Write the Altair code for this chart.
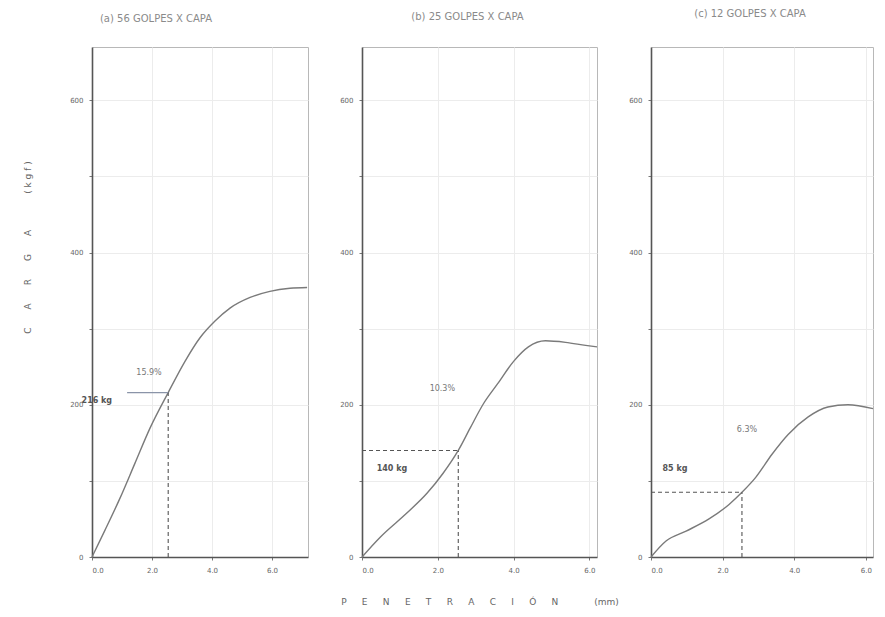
import altair as alt
import pandas as pd

# ---- data (read from the scanned CBR sheet) ----
titles = ["(a)  56 GOLPES  X  CAPA", "(b)  25 GOLPES  X  CAPA", "(c)  12 GOLPES  X  CAPA"]

pen1 = [0.0, 0.43, 0.93, 1.43, 1.93, 2.54, 3.1, 3.6, 4.1, 4.6, 5.27, 5.93, 6.6, 7.17]
load1 = [0, 35, 77, 123, 169, 216, 257, 288, 310, 327, 341, 349, 353, 354]

pen2 = [0.0, 0.48, 1.19, 1.72, 2.14, 2.54, 2.86, 3.2, 3.57, 4.0, 4.39, 4.84, 5.37, 5.9, 6.2]
load2 = [0, 26, 58, 84, 110, 140, 170, 201, 227, 257, 276, 284, 282, 278, 276]

pen3 = [0.0, 0.42, 0.98, 1.62, 2.18, 2.54, 2.93, 3.38, 3.83, 4.39, 4.94, 5.5, 6.2]
load3 = [0, 21, 34, 50, 69, 85, 105, 135, 161, 184, 197, 200, 195]

pen_ref = 2.54                 # 0.1" penetration
load_ref = [216, 140, 85]      # load read at 0.1"
cbr_txt = ["15.9%", "10.3%", "6.3%"]
load_txt = ["216 kg", "140 kg", "85 kg"]

y_ticks = [0, 100, 200, 300, 400, 500, 600]
x_ticks = [0, 1, 2, 3, 4, 5, 6]
x_max = [7.2, 6.2, 6.2]
widths = [216, 235, 222]
title_dx = [-44, -12, -12]
title_off = [23, 25, 28]

# positions of the annotations in data units
cbr_pos = [(1.9, 242), (2.12, 221), (2.68, 167)]
load_pos = [(0.67, 205), (0.79, 116), (0.67, 115)]

Y_MAX = 670
H = 510
SP = "\u2003\u2003"
x_title = "\u2003\u2002\u2009".join(list("PENETRACIÓN")) + "\u2003\u2003\u2003\u2003(mm)"
y_title = SP.join(list("CARGA")) + "\u2003\u2003\u2003\u2003( k g f )"


def panel(i, pen, load):
    curve = pd.DataFrame({"pen": pen, "load": load})
    xs = alt.Scale(domain=[0, x_max[i]], nice=False, zero=True)
    ys = alt.Scale(domain=[0, Y_MAX], nice=False)

    lab_x = "datum.value % 2 == 0 ? format(datum.value, '.1f') : ''"
    lab_y = "datum.value % 200 == 0 ? datum.value : ''"
    if i == 1:
        xaxis = alt.Axis(values=x_ticks, title=x_title, titleFontSize=9, titleColor="#666",
                         titleFontWeight="normal", titleY=40, titleBaseline="top", labelExpr=lab_x)
    else:
        xaxis = alt.Axis(values=x_ticks, title=None, labelExpr=lab_x)
    if i == 0:
        yaxis = alt.Axis(values=y_ticks, title=y_title, titleFontSize=9,
                         titleColor="#666", titleFontWeight="normal", titleX=-60, titleY=200,
                         labelExpr=lab_y)
    else:
        yaxis = alt.Axis(values=y_ticks, title=None, labelExpr=lab_y)

    line = alt.Chart(curve).mark_line(interpolate="monotone", color="#7a7a7a", strokeWidth=1.4).encode(
        x=alt.X("pen:Q", scale=xs, axis=xaxis),
        y=alt.Y("load:Q", scale=ys, axis=yaxis),
    )

    vdf = pd.DataFrame({"x": [pen_ref], "y0": [0], "y1": [load_ref[i]]})
    vline = alt.Chart(vdf).mark_rule(color="#555", strokeDash=[4, 3], strokeWidth=1.1).encode(
        x=alt.X("x:Q", scale=xs), y=alt.Y("y0:Q", scale=ys), y2="y1:Q")

    if i == 0:
        hdf = pd.DataFrame({"x0": [1.17], "x1": [pen_ref], "y": [load_ref[i]]})
        hline = alt.Chart(hdf).mark_rule(color="#8a94a8", strokeWidth=1.1).encode(
            x=alt.X("x0:Q", scale=xs), x2="x1:Q", y=alt.Y("y:Q", scale=ys))
    else:
        hdf = pd.DataFrame({"x0": [0], "x1": [pen_ref], "y": [load_ref[i]]})
        hline = alt.Chart(hdf).mark_rule(color="#555", strokeDash=[4, 3], strokeWidth=1.1).encode(
            x=alt.X("x0:Q", scale=xs), x2="x1:Q", y=alt.Y("y:Q", scale=ys))

    tdf = pd.DataFrame({
        "x": [cbr_pos[i][0], load_pos[i][0]],
        "y": [cbr_pos[i][1], load_pos[i][1]],
        "t": [cbr_txt[i], load_txt[i]],
    })
    align = "right" if i == 0 else "center"
    t1 = alt.Chart(tdf.iloc[[0]]).mark_text(fontSize=8, color="#777", font="DejaVu Sans").encode(
        x=alt.X("x:Q", scale=xs), y=alt.Y("y:Q", scale=ys), text="t:N")
    t2 = alt.Chart(tdf.iloc[[1]]).mark_text(fontSize=8, color="#555", font="DejaVu Sans",
                                            fontWeight="bold", align=align).encode(
        x=alt.X("x:Q", scale=xs), y=alt.Y("y:Q", scale=ys), text="t:N")

    return alt.layer(line, vline, hline, t1, t2).properties(
        width=widths[i], height=H,
        title=alt.TitleParams(titles[i], fontSize=10, color="#8a8a8a", fontWeight="normal",
                              anchor="middle", dx=title_dx[i], offset=title_off[i]),
    )


chart = alt.hconcat(
    panel(0, pen1, load1), panel(1, pen2, load2), panel(2, pen3, load3),
    spacing=54, bounds="flush",
).properties(
    padding={"left": 14, "top": 0, "right": 0, "bottom": 0},
    background="white",
).configure_view(
    stroke="#b8b8b8", strokeWidth=1,
).configure_axis(
    domainColor="#555", domainWidth=1.6, tickColor="#777", tickSize=3,
    gridColor="#ececec", gridWidth=1, labelColor="#666", labelFontSize=7,
    labelFont="DejaVu Sans", labelPadding=6, titleFont="DejaVu Sans",
).configure_title(font="DejaVu Sans")

chart.save("out.html", embed_options={"renderer": "svg", "actions": False})
